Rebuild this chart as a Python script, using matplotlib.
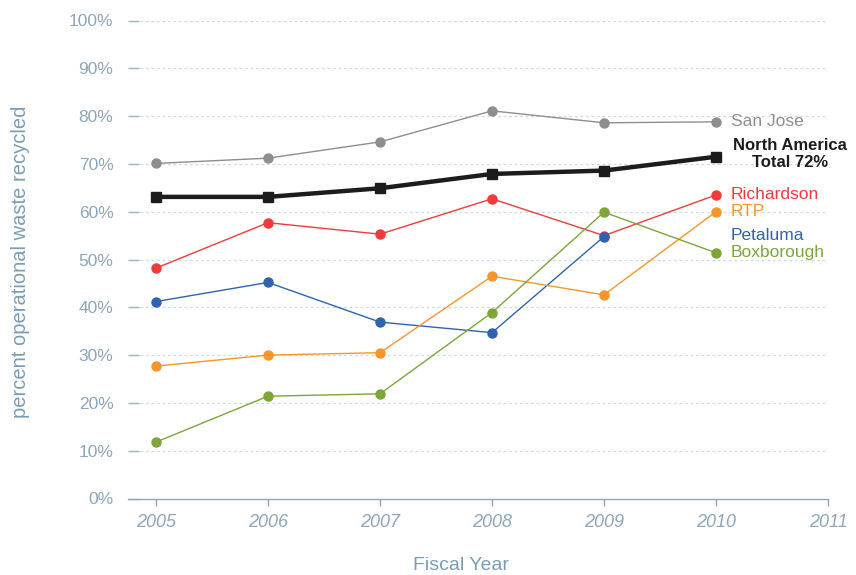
import matplotlib
matplotlib.use("Agg")
import matplotlib.pyplot as plt

years = [2005, 2006, 2007, 2008, 2009, 2010]
san_jose = [70.1, 71.2, 74.6, 81.1, 78.6, 78.8]
north_america = [63.1, 63.1, 64.9, 67.9, 68.6, 71.5]
richardson = [48.2, 57.7, 55.3, 62.7, 55.0, 63.5]
petaluma = [41.2, 45.2, 36.9, 34.7, 54.8]
rtp = [27.7, 30.0, 30.5, 46.5, 42.6, 60.0]
boxborough = [11.8, 21.4, 21.9, 38.9, 59.9, 51.4]

x_ticks = [2005, 2006, 2007, 2008, 2009, 2010, 2011]
y_ticks = [0, 10, 20, 30, 40, 50, 60, 70, 80, 90, 100]
y_tick_labels = [f"{v}%" for v in y_ticks]

plt.rcParams["font.family"] = ["Liberation Sans", "DejaVu Sans"]

AXIS_COLOR = "#8ea6b8"
GRID_COLOR = "#cddae5"
LABEL_COLOR = "#7a9db5"

fig = plt.figure(figsize=(8.56, 5.75), dpi=100)
ax = fig.add_axes([128 / 856, 1 - 498.5 / 575, 700 / 856, 478 / 575])

ax.set_xlim(2004.75, 2011)
ax.set_ylim(0, 100)

series = [
    (san_jose, "#8e8e8e"),
    (richardson, "#ef3b3b"),
    (petaluma, "#2f63b0"),
    (rtp, "#f6962a"),
    (boxborough, "#7da53a"),
]
for values, color in series:
    ax.plot(years[:len(values)], values, color=color, lw=1.0, marker="o",
            ms=6.5, mec=color, mfc=color, zorder=3, clip_on=False)

ax.plot(years, north_america, color="#1c1c1c", lw=3.2, marker="s", ms=7,
        mfc="#1c1c1c", mec="#1c1c1c", zorder=4, clip_on=False)

# end-of-line labels
label_specs = [
    ("San Jose", san_jose[-1], "#8e8e8e"),
    ("Richardson", richardson[-1], "#ef3b3b"),
    ("RTP", rtp[-1], "#f6962a"),
    ("Petaluma", 55.0, "#2f63b0"),
    ("Boxborough", boxborough[-1], "#7da53a"),
]
for text, yv, color in label_specs:
    ax.annotate(text, xy=(2010, yv), xytext=(10.5, 0), textcoords="offset points",
                ha="left", va="center", fontsize=12.5, color=color,
                annotation_clip=False)

ax.annotate("North America\nTotal 72%", xy=(2010, 72.1), xytext=(53.5, 0),
            textcoords="offset points", ha="center", va="center",
            fontsize=12, fontweight="bold", color="#1c1c1c",
            multialignment="center", linespacing=1.15, annotation_clip=False)

# grid and axes styling
ax.set_yticks(y_ticks)
ax.set_yticklabels(y_tick_labels)
ax.set_xticks(x_ticks)
ax.set_xticklabels([str(v) for v in x_ticks], fontstyle="italic")

for yv in y_ticks[1:]:
    ax.axhline(yv, xmin=12 / 700, xmax=1.0, color=GRID_COLOR, lw=0.9,
               ls=(0, (2.2, 2.2)), zorder=1)

for side in ("top", "right", "left"):
    ax.spines[side].set_visible(False)
ax.spines["bottom"].set_color(AXIS_COLOR)
ax.spines["bottom"].set_linewidth(1.0)

ax.tick_params(axis="y", direction="in", length=8, width=1.0, color="#9db3c4",
               labelsize=12.5, labelcolor=AXIS_COLOR, pad=10.5)
ax.tick_params(axis="x", direction="out", length=5, width=1.0, color=AXIS_COLOR,
               labelsize=13, labelcolor=AXIS_COLOR, pad=6)

fig.text(21 / 856, 1 - 262 / 575, "percent operational waste recycled",
         rotation=90, ha="center", va="center", fontsize=14.5, color=LABEL_COLOR)
fig.text(461 / 856, 1 - 565 / 575, "Fiscal Year", ha="center", va="center",
         fontsize=14, color=LABEL_COLOR)

fig.savefig("out.png", dpi=100)
